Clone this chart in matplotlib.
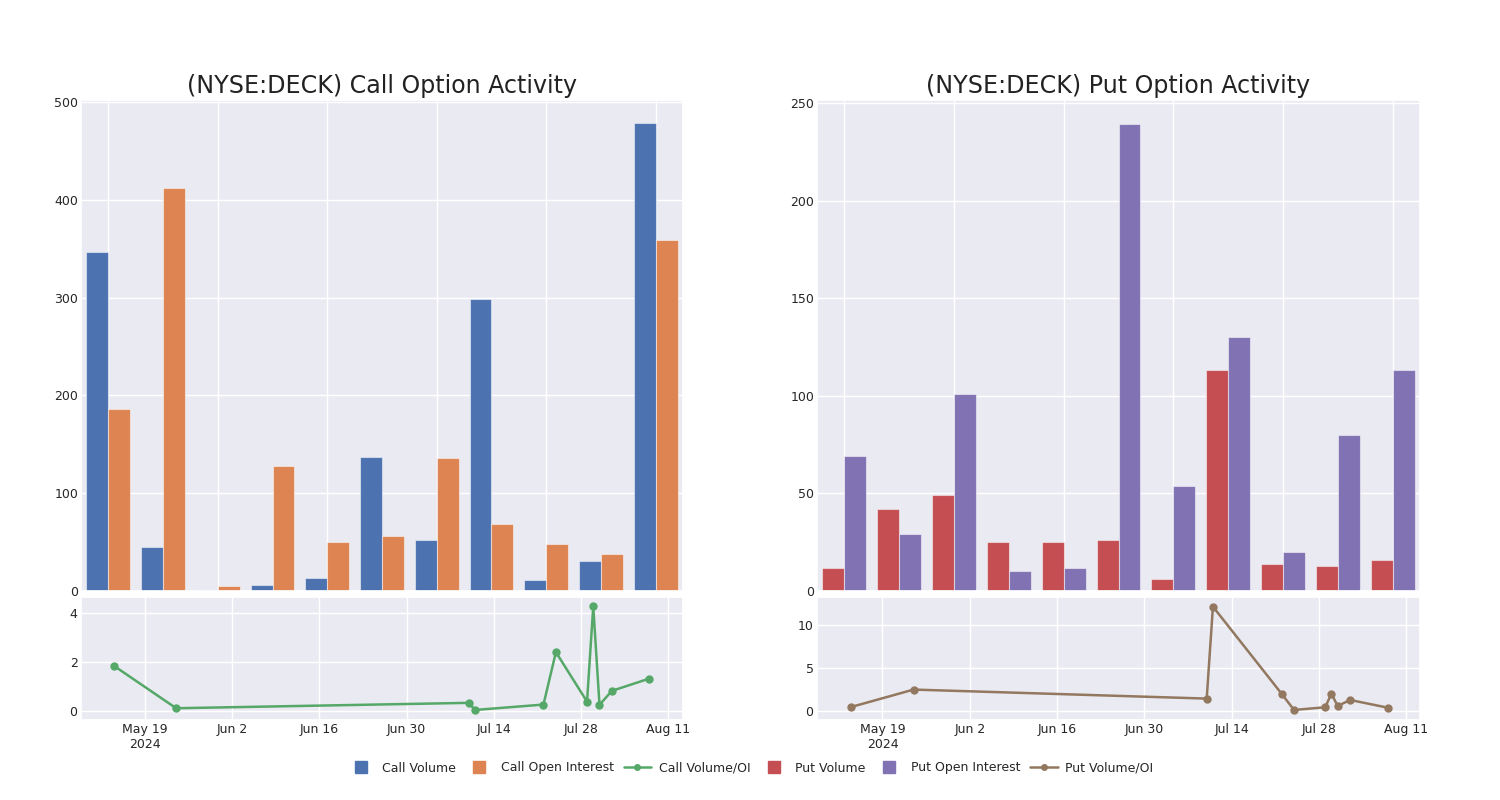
import matplotlib
matplotlib.use("Agg")
import matplotlib.pyplot as plt
from matplotlib.lines import Line2D
import numpy as np
import pandas as pd
import seaborn as sns

sns.set_theme(style="darkgrid")
plt.rcParams['font.family'] = ['DejaVu Sans']

# ---- data ----
call_volume = [347, 45, 1, 6, 13, 137, 52, 299, 11, 31, 478]
call_oi = [186, 412, 5, 128, 50, 56, 136, 69, 48, 38, 359]
put_volume = [12, 42, 49, 25, 25, 26, 6, 113, 14, 13, 16]
put_oi = [69, 29, 101, 10, 12, 239, 54, 130, 20, 80, 113]

call_ratio_dates = ["2024-05-14", "2024-05-24", "2024-07-10", "2024-07-11", "2024-07-22",
                    "2024-07-24", "2024-07-29", "2024-07-30", "2024-07-31", "2024-08-02",
                    "2024-08-08"]
call_ratio = [1.84, 0.11, 0.33, 0.04, 0.26, 2.40, 0.38, 4.27, 0.25, 0.82, 1.32]

put_ratio_dates = ["2024-05-14", "2024-05-24", "2024-07-10", "2024-07-11", "2024-07-22",
                   "2024-07-24", "2024-07-29", "2024-07-30", "2024-07-31", "2024-08-02",
                   "2024-08-08"]
put_ratio = [0.47, 2.49, 1.44, 12.14, 2.02, 0.12, 0.43, 2.02, 0.58, 1.28, 0.39]

tick_dates = ["2024-05-19", "2024-06-02", "2024-06-16", "2024-06-30", "2024-07-14",
              "2024-07-28", "2024-08-11"]
tick_labels = ["May 19\n2024", "Jun 2", "Jun 16", "Jun 30", "Jul 14", "Jul 28", "Aug 11"]

titles = ["(NYSE:DECK) Call Option Activity", "(NYSE:DECK) Put Option Activity"]

pal = sns.color_palette("deep")
c_blue, c_orange, c_green, c_red, c_purple, c_brown = pal[0], pal[1], pal[2], pal[3], pal[4], pal[5]

W, H = 1500, 800
fig = plt.figure(figsize=(15, 8), dpi=100)

def ax_at(x0, y0, x1, y1):
    return fig.add_axes([x0 / W, 1 - y1 / H, (x1 - x0) / W, (y1 - y0) / H])

panels = [
    dict(xl=81, xr=683, vol=call_volume, oi=call_oi, c1=c_blue, c2=c_orange,
         dates=call_ratio_dates, ratio=call_ratio, lc=c_green, ytop=502,
         yticks=[0, 100, 200, 300, 400, 500], rlim=(-0.37, 4.65), rticks=[0, 2, 4],
         xlim=("2024-05-08 17:00", "2024-08-13 10:00"), title=titles[0]),
    dict(xl=817, xr=1420, vol=put_volume, oi=put_oi, c1=c_red, c2=c_purple,
         dates=put_ratio_dates, ratio=put_ratio, lc=c_brown, ytop=251.5,
         yticks=[0, 50, 100, 150, 200, 250], rlim=(-1.05, 13.26), rticks=[0, 5, 10],
         xlim=("2024-05-08 12:00", "2024-08-13 05:00"), title=titles[1]),
]

for p in panels:
    axb = ax_at(p["xl"], 100, p["xr"], 591)
    n = len(p["vol"])
    x = np.arange(n)
    w = 0.4
    axb.bar(x - w / 2, p["vol"], width=w, color=p["c1"], edgecolor=(1, 1, 1, 0.5), linewidth=0.8)
    axb.bar(x + w / 2, p["oi"], width=w, color=p["c2"], edgecolor=(1, 1, 1, 0.5), linewidth=0.8)
    axb.set_xlim(-0.5, n - 0.5)
    axb.set_ylim(0, p["ytop"])
    axb.set_xticks(np.arange(0, n, 2))
    axb.set_xticklabels([])
    axb.set_yticks(p["yticks"])
    axb.tick_params(axis="both", length=0, labelsize=9, pad=2)
    axb.set_title(p["title"], fontsize=17.1, pad=5, color="#222222")

    axl = ax_at(p["xl"], 597, p["xr"], 720)
    d = pd.to_datetime(p["dates"])
    axl.plot(d, p["ratio"], color=p["lc"], linewidth=1.8, marker="o", markersize=5)
    axl.set_xlim(pd.Timestamp(p["xlim"][0]), pd.Timestamp(p["xlim"][1]))
    axl.set_ylim(*p["rlim"])
    axl.set_yticks(p["rticks"])
    axl.set_xticks(pd.to_datetime(tick_dates))
    axl.set_xticklabels(tick_labels)
    axl.tick_params(axis="both", length=0, labelsize=9, pad=2.5)

handles = [
    Line2D([0], [0], color=c_blue, marker="s", markersize=8, linestyle="none", label="Call Volume"),
    Line2D([0], [0], color=c_orange, marker="s", markersize=8, linestyle="none", label="Call Open Interest"),
    Line2D([0], [0], color=c_green, marker="o", markersize=4, linewidth=1.8, label="Call Volume/OI"),
    Line2D([0], [0], color=c_red, marker="s", markersize=8, linestyle="none", label="Put Volume"),
    Line2D([0], [0], color=c_purple, marker="s", markersize=8, linestyle="none", label="Put Open Interest"),
    Line2D([0], [0], color=c_brown, marker="o", markersize=4, linewidth=1.8, label="Put Volume/OI"),
]
fig.legend(handles=handles, loc="center", bbox_to_anchor=(0.5, 1 - 768 / H), ncol=6,
           frameon=False, fontsize=9, handlelength=2.2, handletextpad=0.6, columnspacing=0.8)

fig.savefig("out.png", dpi=100)
